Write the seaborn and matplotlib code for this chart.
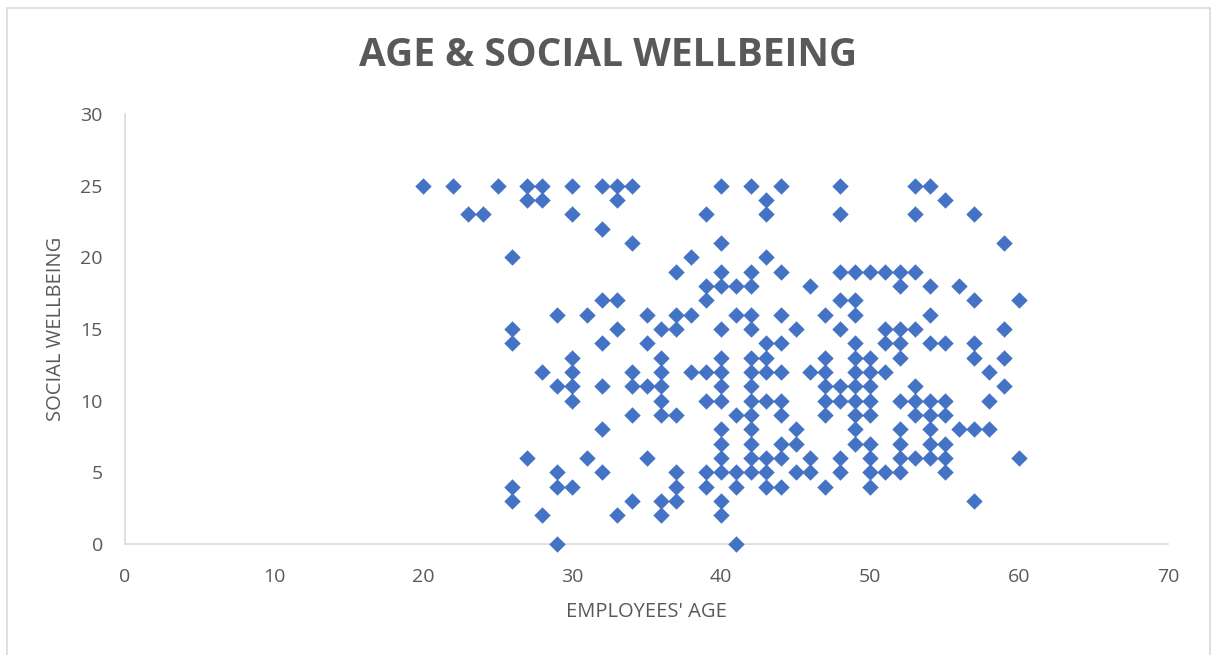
import matplotlib
matplotlib.use("Agg")
import matplotlib.pyplot as plt
from matplotlib.patches import Rectangle
import seaborn as sns
import pandas as pd

# Social wellbeing scores and the employee ages recorded at each score
scores = [25, 24, 23, 22, 21, 20, 19, 18, 17, 16, 15, 14, 13,
          12, 11, 10, 9, 8, 7, 6, 5, 4, 3, 2, 0]
ages_at_score = [
    [20, 22, 25, 27, 28, 30, 32, 33, 34, 40, 42, 44, 48, 53, 54],
    [27, 28, 33, 43, 55],
    [23, 24, 30, 39, 43, 48, 53, 57],
    [32],
    [34, 40, 59],
    [26, 38, 43],
    [37, 40, 42, 44, 48, 49, 50, 51, 52, 53],
    [39, 40, 41, 42, 46, 52, 54, 56],
    [32, 33, 39, 48, 49, 57, 60],
    [29, 31, 35, 37, 38, 41, 42, 44, 47, 49, 54],
    [26, 33, 36, 37, 40, 42, 45, 48, 51, 52, 53, 59],
    [26, 32, 35, 43, 44, 49, 51, 52, 54, 55, 57],
    [30, 36, 40, 42, 43, 47, 49, 50, 52, 57, 59],
    [28, 30, 34, 36, 38, 39, 40, 42, 43, 44, 46, 47, 49, 50, 51, 58],
    [29, 30, 32, 34, 35, 36, 40, 42, 47, 48, 49, 50, 53, 59],
    [30, 36, 39, 40, 42, 43, 44, 47, 48, 49, 50, 52, 53, 54, 55, 58],
    [34, 36, 37, 41, 42, 44, 47, 49, 50, 53, 54, 55],
    [32, 40, 42, 45, 49, 52, 54, 56, 57, 58],
    [40, 42, 44, 45, 49, 50, 52, 54, 55],
    [27, 31, 35, 40, 42, 43, 44, 46, 48, 50, 52, 53, 54, 55, 60],
    [29, 32, 37, 39, 40, 41, 42, 43, 45, 46, 48, 50, 51, 52, 55],
    [26, 29, 30, 37, 39, 41, 43, 44, 47, 50],
    [26, 34, 36, 37, 40, 57],
    [28, 33, 36, 40],
    [29, 41],
]

x_ticks = [0, 10, 20, 30, 40, 50, 60, 70]
y_ticks = [0, 5, 10, 15, 20, 25, 30]

rows = [(a, s) for s, group in zip(scores, ages_at_score) for a in group]
df = pd.DataFrame(rows, columns=["age", "wellbeing"])

sns.set_theme(style="white")
plt.rcParams["font.family"] = ["Open Sans", "DejaVu Sans"]

W, H = 1216, 655
fig = plt.figure(figsize=(W / 100, H / 100), dpi=100)
ax = fig.add_axes([125 / W, 1 - 544 / H, (1168 - 125) / W, (544 - 114) / H])

sns.scatterplot(data=df, x="age", y="wellbeing", ax=ax, marker="D",
                s=70, color="#4472C4", edgecolor="#4472C4", linewidth=0,
                clip_on=False, zorder=3)

ax.set_xlim(0, 70)
ax.set_ylim(0, 30)
ax.set_xticks(x_ticks)
ax.set_yticks(y_ticks)
ax.tick_params(axis="both", length=0, labelsize=14, colors="#595959")
ax.tick_params(axis="x", pad=17)
ax.tick_params(axis="y", pad=16)

for side in ("top", "right"):
    ax.spines[side].set_visible(False)
for side in ("left", "bottom"):
    ax.spines[side].set_color("#D9D9D9")
    ax.spines[side].set_linewidth(1.2)
ax.grid(False)

ax.set_xlabel("EMPLOYEES' AGE", fontsize=14.5, color="#595959", labelpad=12)
ax.set_ylabel("SOCIAL WELLBEING", fontsize=14.5, color="#595959", labelpad=10)

fig.text(0.5, 1 - 55 / H, "AGE & SOCIAL WELLBEING", ha="center", va="center",
         fontsize=28, fontweight="bold", color="#595959")

# chart-area frame
fig.patches.append(Rectangle((7 / W, -0.01), (1210 - 7) / W, 1 - 8 / H + 0.01,
                             transform=fig.transFigure, fill=False,
                             edgecolor="#D9D9D9", linewidth=1.2))

fig.savefig("out.png", dpi=100, facecolor="white")
